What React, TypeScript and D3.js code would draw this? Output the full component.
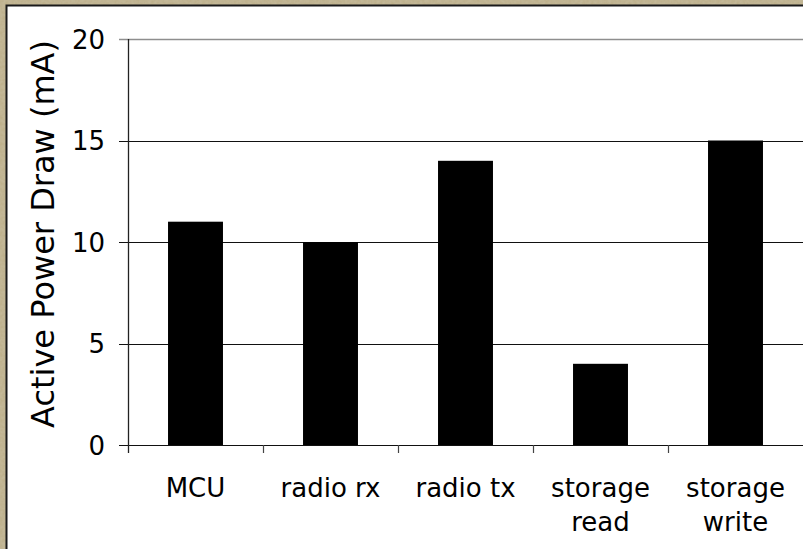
import React, { useEffect, useRef } from "react";
import * as d3 from "d3";

// chart data
const categories = ["MCU", "radio rx", "radio tx", "storage read", "storage write"];
const powerDraw = [11, 10, 14, 4, 15]; // mA
const yTicks = [0, 5, 10, 15, 20];
const yTitle = "Active Power Draw (mA)";

const W = 803;
const H = 549;

const App: React.FC = () => {
  const svgRef = useRef<SVGSVGElement | null>(null);
  const plot = { left: 128, right: 803, top: 39, bottom: 445 }; // plot area
  const font = "'DejaVu Sans', Verdana, sans-serif";

  useEffect(() => {
    if (!svgRef.current) return;
    const svg = d3.select(svgRef.current);
    svg.selectAll("*").remove();

    // parchment texture for the frame
    const defs = svg.append("defs");
    const filter = defs.append("filter").attr("id", "paper");
    filter
      .append("feTurbulence")
      .attr("type", "fractalNoise")
      .attr("baseFrequency", 0.35)
      .attr("numOctaves", 2)
      .attr("result", "noise");
    filter
      .append("feColorMatrix")
      .attr("in", "noise")
      .attr("type", "matrix")
      .attr("values", "0 0 0 0 0.62  0 0 0 0 0.57  0 0 0 0 0.43  0 0 0 0.5 0")
      .attr("result", "tint");
    filter
      .append("feComposite")
      .attr("in", "tint")
      .attr("in2", "SourceGraphic")
      .attr("operator", "atop");

    svg
      .append("rect")
      .attr("width", W)
      .attr("height", H)
      .attr("fill", "#bcae87")
      .attr("filter", "url(#paper)");
    svg
      .append("rect")
      .attr("x", 6.5)
      .attr("y", 5.5)
      .attr("width", W + 10)
      .attr("height", H + 10)
      .attr("fill", "#ffffff")
      .attr("stroke", "#1a1a1a")
      .attr("stroke-width", 2);

    const yScale = d3.scaleLinear().domain([0, 20]).range([plot.bottom, plot.top]);

    // category slots (for ticks) and bars
    const slots = d3.scaleBand().domain(categories).range([plot.left, plot.right]);
    const xScale = d3
      .scaleBand()
      .domain(categories)
      .range([plot.left, plot.right])
      .paddingInner(0.593)
      .paddingOuter(0.2965);

    const chart = svg.append("g");

    // horizontal gridlines
    chart
      .selectAll(".grid")
      .data(yTicks)
      .enter()
      .append("line")
      .attr("class", "grid")
      .attr("x1", plot.left - 9)
      .attr("x2", plot.right)
      .attr("y1", (d) => Math.round(yScale(d)) + 0.5)
      .attr("y2", (d) => Math.round(yScale(d)) + 0.5)
      .attr("stroke", (d) => (d === 20 ? "#8e8e8e" : "#111"))
      .attr("stroke-width", (d) => (d === 20 ? 1.5 : 1.2));

    // bars
    chart
      .selectAll(".bar")
      .data(powerDraw)
      .enter()
      .append("rect")
      .attr("class", "bar")
      .attr("x", (_d, i) => xScale(categories[i]) as number)
      .attr("y", (d) => yScale(d))
      .attr("width", xScale.bandwidth())
      .attr("height", (d) => plot.bottom - yScale(d))
      .attr("fill", "#000");

    // y axis line
    chart
      .append("line")
      .attr("x1", plot.left + 0.5)
      .attr("x2", plot.left + 0.5)
      .attr("y1", plot.top)
      .attr("y2", plot.bottom + 8)
      .attr("stroke", "#222")
      .attr("stroke-width", 1.3);

    // category tick marks
    chart
      .selectAll(".xtick")
      .data(categories.slice(1))
      .enter()
      .append("line")
      .attr("class", "xtick")
      .attr("x1", (d) => (slots(d) as number) + 0.5)
      .attr("x2", (d) => (slots(d) as number) + 0.5)
      .attr("y1", plot.bottom)
      .attr("y2", plot.bottom + 8)
      .attr("stroke", "#444")
      .attr("stroke-width", 1.2);

    // y tick labels
    chart
      .selectAll(".ylabel")
      .data(yTicks)
      .enter()
      .append("text")
      .attr("class", "ylabel")
      .attr("x", 105)
      .attr("y", (d) => yScale(d) + 9.5)
      .attr("text-anchor", "end")
      .attr("font-family", font)
      .attr("font-size", 26)
      .attr("fill", "#000")
      .text((d) => d);

    // category labels (wrap two-word storage labels)
    chart
      .selectAll(".xlabel")
      .data(categories)
      .enter()
      .append("text")
      .attr("class", "xlabel")
      .attr("x", (d) => (slots(d) as number) + slots.bandwidth() / 2)
      .attr("y", 497)
      .attr("text-anchor", "middle")
      .attr("font-family", font)
      .attr("font-size", 26)
      .attr("fill", "#000")
      .each(function (d) {
        const t = d3.select(this);
        const lines = d.startsWith("storage") ? d.split(" ") : [d];
        lines.forEach((ln, i) => {
          t.append("tspan")
            .attr("x", (slots(d) as number) + slots.bandwidth() / 2)
            .attr("dy", i === 0 ? 0 : 34)
            .text(ln);
        });
      });

    // y title
    chart
      .append("text")
      .attr("transform", `translate(54, ${(plot.top + plot.bottom) / 2 - 8}) rotate(-90)`)
      .attr("text-anchor", "middle")
      .attr("font-family", font)
      .attr("font-size", 32)
      .attr("fill", "#000")
      .text(yTitle);
  }, []);

  return (
    <svg
      ref={svgRef}
      width={W}
      height={H}
      style={{ position: "fixed", left: 0, top: 0, display: "block" }}
    ></svg>
  );
};

export default App;
